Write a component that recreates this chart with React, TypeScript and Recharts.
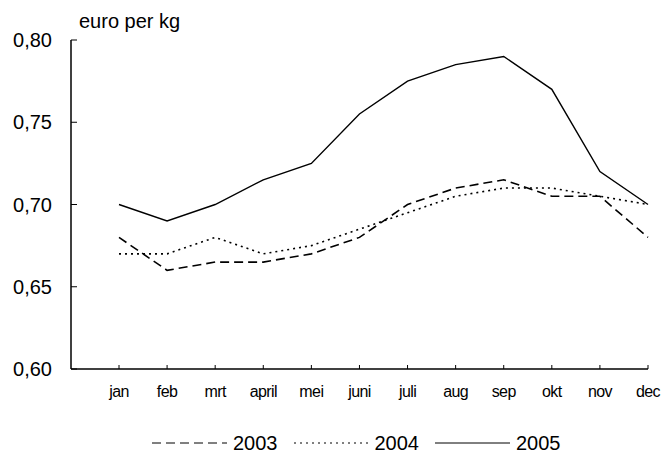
import React from "react";
import { LineChart, Line, XAxis, YAxis, Legend } from "recharts";

const months = ["jan", "feb", "mrt", "april", "mei", "juni", "juli", "aug", "sep", "okt", "nov", "dec"];
const v2003 = [0.68, 0.66, 0.665, 0.665, 0.67, 0.68, 0.70, 0.71, 0.715, 0.705, 0.705, 0.68];
const v2004 = [0.67, 0.67, 0.68, 0.67, 0.675, 0.685, 0.695, 0.705, 0.71, 0.71, 0.705, 0.70];
const v2005 = [0.70, 0.69, 0.70, 0.715, 0.725, 0.755, 0.775, 0.785, 0.79, 0.77, 0.72, 0.70];
const yTicks = [0.6, 0.65, 0.7, 0.75, 0.8];
const seriesNames = ["2003", "2004", "2005"];
const dashes = ["9 5", "2 4", undefined];

const data = months.map((m, i) => ({ month: m, "2003": v2003[i], "2004": v2004[i], "2005": v2005[i] }));

const FONT = "'Liberation Sans', Arial, sans-serif";

const fmt = (v: number) => v.toFixed(2).replace(".", ",");

const LegendContent = () => (
  <div style={{ height: 24, width: 663, position: "relative", fontFamily: FONT, fontSize: 20, color: "#000" }}>
    {seriesNames.map((n, i) => (
      <div key={n} style={{ position: "absolute", left: 152 + i * 141.5, top: 0, height: 24, display: "flex", alignItems: "center" }}>
        <svg width={76} height={24}>
          <line x1={0} x2={75} y1={12} y2={12} stroke="#000" strokeWidth={1} strokeDasharray={dashes[i]} />
        </svg>
        <span style={{ marginLeft: 5, lineHeight: "24px" }}>{n}</span>
      </div>
    ))}
  </div>
);

export default function App() {
  return (
    <div style={{ position: "absolute", left: 0, top: 0, background: "#fff" }}>
      <LineChart width={663} height={455} data={data} margin={{ top: 40, right: 15, bottom: 0, left: 0 }}>
        <XAxis
          dataKey="month"
          padding={{ left: 48, right: 0 }}
          height={62}
          axisLine={{ stroke: "#000", strokeWidth: 1.5 }}
          tickLine={{ stroke: "#000", strokeWidth: 1 }}
          tickSize={-4}
          tickMargin={21}
          interval={0}
          tick={{ fill: "#000", fontSize: 16, fontFamily: FONT, letterSpacing: -0.6 }}
        />
        <YAxis
          width={71}
          domain={[0.6, 0.8]}
          ticks={yTicks}
          tickFormatter={fmt}
          axisLine={{ stroke: "#000", strokeWidth: 1.5 }}
          tickLine={{ stroke: "#000", strokeWidth: 1 }}
          tickSize={-6}
          tickMargin={25}
          tick={{ fill: "#000", fontSize: 20, fontFamily: FONT }}
          label={{
            content: () => (
              <text x={79} y={28} fontSize={20} fontFamily={FONT} fill="#000">
                euro per kg
              </text>
            ),
          }}
        />
        <Legend verticalAlign="bottom" height={24} content={<LegendContent />} />
        <Line dataKey="2003" stroke="#000" strokeWidth={1.6} strokeDasharray="9 5" dot={false} isAnimationActive={false} />
        <Line dataKey="2004" stroke="#000" strokeWidth={1.6} strokeDasharray="2 4" dot={false} isAnimationActive={false} />
        <Line dataKey="2005" stroke="#000" strokeWidth={1.4} dot={false} isAnimationActive={false} />
      </LineChart>
    </div>
  );
}
